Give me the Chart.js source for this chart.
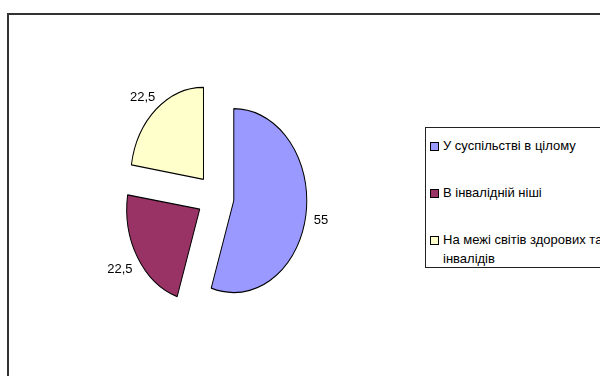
<!DOCTYPE html>
<html>
<head>
<meta charset="utf-8">
<script src="https://cdn.jsdelivr.net/npm/chart.js@4"></script>
<style>
  html, body { margin: 0; padding: 0; background: #fff; }
  body { width: 600px; height: 376px; overflow: hidden; position: relative; font-family: "Liberation Sans", Arial, sans-serif; }
  #frame { position: absolute; left: 7px; top: 13px; width: 640px; height: 420px; border: 2px solid #333; box-sizing: border-box; }
  #wrap { position: absolute; left: 0; top: 0; width: 600px; height: 376px; }
  #legend { position: absolute; left: 425px; top: 127px; width: 220px; height: 141px; border: 1px solid #222; box-sizing: border-box; background: #fff; }
  .item { position: absolute; left: 4px; font-size: 13px; line-height: 19px; color: #000; }
  .box { position: absolute; left: 0; width: 7px; height: 7px; border: 1px solid #000; }
  .txt { position: absolute; left: 13px; white-space: nowrap; }
</style>
</head>
<body>
<div id="frame"></div>
<div id="wrap"><canvas id="chart" width="600" height="376"></canvas></div>
<div id="legend"></div>
<script>
const categories = ["У суспільстві в цілому", "В інвалідній ніші", "На межі світів здорових та інвалідів"]
const values = [55, 22.5, 22.5]
const valueLabels = ["55", "22,5", "22,5"]
const colors = ["#9999FF", "#993366", "#FFFFCC"]

// Excel draws the pie as an ellipse, taller than wide
const stretchY = 1.26
const pieRadius = 73
// how far each slice is pulled out from the centre
const explode = 18.5

const centreY = chart => (chart.chartArea.top + chart.chartArea.bottom) / 2

const ellipse = {
  id: 'ellipse',
  afterDatasetsUpdate(chart) {
    // explode slices by moving their centres (Chart.js offset also bends the edges)
    chart.getDatasetMeta(0).data.forEach(a => {
      const mid = (a.startAngle + a.endAngle) / 2
      a.x += Math.cos(mid) * explode
      a.y += Math.sin(mid) * explode
    })
  },
  beforeDatasetsDraw(chart) {
    const ctx = chart.ctx
    const cy = centreY(chart)
    ctx.save()
    ctx.translate(0, cy)
    ctx.scale(1, stretchY)
    ctx.translate(0, -cy)
  },
  afterDatasetsDraw(chart) {
    const ctx = chart.ctx
    ctx.restore()
    // value labels outside each slice
    const cy = centreY(chart)
    const meta = chart.getDatasetMeta(0)
    ctx.save()
    ctx.font = '13px "Liberation Sans", Arial, sans-serif'
    ctx.fillStyle = '#000'
    ctx.textAlign = 'center'
    ctx.textBaseline = 'middle'
    meta.data.forEach((a, i) => {
      const mid = (a.startAngle + a.endAngle) / 2
      const dx = Math.cos(mid), dy = Math.sin(mid)
      const r = pieRadius + 7
      const w = ctx.measureText(valueLabels[i]).width
      const x = a.x + dx * r + dx * (w / 2 + 1)
      const y = cy + (a.y + dy * r - cy) * stretchY + dy * 10 + 2
      ctx.fillText(valueLabels[i], x, y)
    })
    ctx.restore()
  }
}

const chart = new Chart(document.getElementById('chart'), {
  type: 'pie',
  data: {
    labels: categories,
    datasets: [{
      data: values,
      backgroundColor: colors,
      borderColor: '#000',
      borderWidth: 1
    }]
  },
  options: {
    responsive: false,
    animation: false,
    events: [],
    radius: pieRadius,
    layout: { padding: { left: 0, right: 169, top: 18, bottom: 0 } },
    plugins: {
      legend: { display: false },
      tooltip: { enabled: false }
    }
  },
  plugins: [ellipse]
})

// legend box, built from the same arrays
const legend = document.getElementById('legend')
const tops = [8, 55, 102]
categories.forEach((c, i) => {
  const item = document.createElement('div')
  item.className = 'item'
  item.style.top = tops[i] + 'px'
  const parts = i === 2 ? ["На межі світів здорових та", "інвалідів"] : [c]
  const box = document.createElement('div')
  box.className = 'box'
  box.style.background = colors[i]
  box.style.top = '6px'
  item.appendChild(box)
  parts.forEach((p, k) => {
    const t = document.createElement('div')
    t.className = 'txt'
    t.style.top = (k * 19) + 'px'
    t.textContent = p
    item.appendChild(t)
  })
  legend.appendChild(item)
})
</script>
</body>
</html>
